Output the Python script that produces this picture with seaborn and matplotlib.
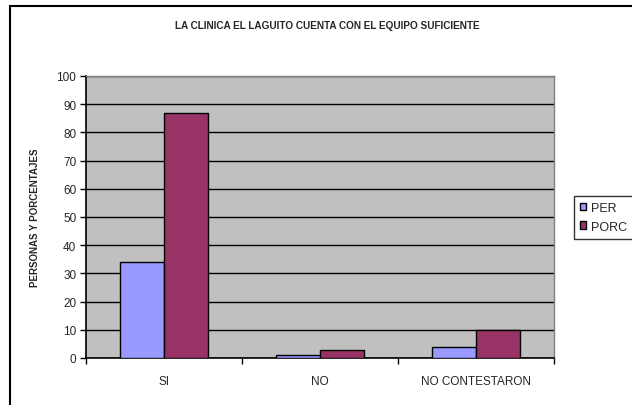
import matplotlib
matplotlib.use("Agg")
import matplotlib.pyplot as plt
import seaborn as sns
import pandas as pd
from matplotlib.patches import Rectangle, Patch

categories = ["SI", "NO", "NO CONTESTARON"]
per = [34, 1, 4]
porc = [87, 3, 10]
series_names = ["PER", "PORC"]
title = "LA CLINICA EL LAGUITO CUENTA CON EL EQUIPO SUFICIENTE"
ylabel = "PERSONAS Y PORCENTAJES"

df = pd.DataFrame({
    "cat": categories * 2,
    "serie": [series_names[0]] * 3 + [series_names[1]] * 3,
    "val": per + porc,
})

sns.set_style("white")
plt.rcParams["font.family"] = ["Liberation Sans", "DejaVu Sans"]

W, H = 632, 406
fig = plt.figure(figsize=(W / 100, H / 100), dpi=100)
ax = fig.add_axes([86 / W, (H - 359) / H, (554 - 86) / W, (359 - 77) / H])

colors = {"PER": "#9999FF", "PORC": "#993366"}
sns.barplot(data=df, x="cat", y="val", hue="serie", order=categories,
            hue_order=series_names, palette=colors, width=0.56, saturation=1,
            edgecolor="black", linewidth=1.0, ax=ax, legend=False, zorder=3)

ax.set_facecolor("#C0C0C0")
ax.set_xlim(-0.5, 2.5)
ax.set_ylim(0, 100)
ax.set_yticks(range(0, 101, 10))
ax.yaxis.grid(True, color="black", linewidth=1.0, zorder=1)
ax.set_axisbelow(True)
ax.set_xlabel("")
ax.set_ylabel(ylabel, fontsize=7, fontweight="bold", labelpad=12)

for s in ["top", "right"]:
    ax.spines[s].set_color("#808080")
    ax.spines[s].set_linewidth(1.0)
for s in ["left", "bottom"]:
    ax.spines[s].set_color("black")
    ax.spines[s].set_linewidth(1.2)

ax.tick_params(axis="y", which="major", direction="out", length=4, width=1,
               color="black", labelsize=8.5, pad=3, left=True)
ax.tick_params(axis="x", which="major", length=0, labelsize=8.5, pad=12)
ax.set_xticks([-0.5, 0.5, 1.5, 2.5], minor=True)
ax.tick_params(axis="x", which="minor", direction="out", length=4, width=1,
               color="black", bottom=True)

fig.text(327 / W, 1 - 26 / H, title, ha="center", va="center",
         fontsize=7.2, fontweight="bold")

# outer chart border
fig.patches.append(Rectangle((10 / W, -0.1), 1.2, 1 - 7 / H + 0.1,
                             transform=fig.transFigure, fill=False,
                             edgecolor="black", linewidth=1.5))

handles = [Patch(facecolor=colors[n], edgecolor="black", linewidth=1.0, label=n)
           for n in series_names]
leg = fig.legend(handles=handles, loc="lower left",
                 bbox_to_anchor=(574 / W, (H - 240) / H),
                 fontsize=9, frameon=True, fancybox=False, handlelength=0.45,
                 handleheight=0.6, handletextpad=0.45, borderpad=0.5,
                 labelspacing=0.55, borderaxespad=0)
leg.get_frame().set_edgecolor("black")
leg.get_frame().set_linewidth(1.0)

fig.savefig("out.png", dpi=100)
